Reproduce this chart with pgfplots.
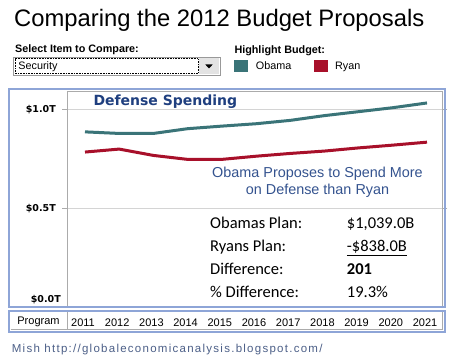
\documentclass[border=0pt]{standalone}
\usepackage{fontspec}
\setmainfont{Liberation Sans}
\newfontfamily\dvb{DejaVu Sans}
\newfontfamily\calib{Carlito}
\newfontfamily\footfont{Liberation Sans}[LetterSpace=11]
\usepackage{pgfplots}
\pgfplotsset{compat=1.18}
\definecolor{obama}{HTML}{3A7478}
\definecolor{ryan}{HTML}{A8102A}
\definecolor{frameblue}{HTML}{8EA5D7}
\definecolor{titleblue}{HTML}{1F3F7F}
\definecolor{noteblue}{HTML}{34538F}
\definecolor{footblue}{HTML}{4D6088}
\definecolor{gridgray}{HTML}{D4D4D4}
\definecolor{linegray}{HTML}{ABABAB}
\begin{document}
\begin{tikzpicture}[x=1pt,y=1pt]
\path[use as bounding box, fill=white] (0,0) rectangle (456,363);
% header
\node[anchor=base west, inner sep=0] at (14,336) {\fontsize{23.8}{28}\selectfont Comparing the 2012 Budget Proposals};
\node[anchor=base west, inner sep=0] at (15,310.5) {\fontsize{10.8}{13}\selectfont\bfseries Select Item to Compare:};
\node[anchor=base west, inner sep=0] at (234.3,309.7) {\fontsize{10.8}{13}\selectfont\bfseries Highlight Budget:};
% dropdown
\draw[draw=gray!80, line width=0.8pt] (13.3,288) rectangle (220.3,305.7);
\draw[densely dotted, black, line width=0.6pt] (14.8,289.5) rectangle (198,304.2);
\fill[gray!22] (199,289) rectangle (219,304.7);
\fill (205.3,298.5) -- (212.7,298.5) -- (209,294.5) -- cycle;
\node[anchor=base west, inner sep=0] at (18.3,293.7) {\fontsize{10.8}{13}\selectfont Security};
% legend
\fill[obama] (234,291.3) rectangle (248,303);
\node[anchor=base west, inner sep=0] at (255.7,293) {\fontsize{10.8}{13}\selectfont Obama};
\fill[ryan] (314.3,291.3) rectangle (327.7,303);
\node[anchor=base west, inner sep=0] at (335,293) {\fontsize{10.8}{13}\selectfont Ryan};
% axis
\begin{axis}[
  at={(67pt,55.7pt)}, anchor=south west, scale only axis,
  width=375.5pt, height=216.3pt,
  xmin=2010.474, xmax=2021.453, ymin=0, ymax=1.0924,
  axis line style={draw=none},
  tick align=outside, major tick length=5pt,
  ytick={0.5,1}, yticklabels={\$0.5T,\$1.0T},
  extra y ticks={0.037}, extra y tick labels={\$0.0T},
  extra y tick style={grid=none, major tick length=0pt},
  ytick style={linegray, line width=0.8pt},
  ymajorgrids, grid style={gridgray, line width=0.8pt},
  yticklabel style={font=\dvb\bfseries\fontsize{9.5}{11}\selectfont, inner sep=0pt, xshift=-6pt},
  xtick={2011,2012,2013,2014,2015,2016,2017,2018,2019,2020,2021},
  xticklabels={2011,2012,2013,2014,2015,2016,2017,2018,2019,2020,2021},
  xtick style={draw=none},
  xticklabel style={anchor=center, yshift=-10pt, xshift=-2pt, font=\fontsize{11}{13}\selectfont},
]
\addplot[obama, line width=3pt, line join=round] coordinates {
(2011,0.886) (2012,0.878) (2013,0.878) (2014,0.902) (2015,0.915) (2016,0.927)
(2017,0.944) (2018,0.968) (2019,0.988) (2020,1.008) (2021,1.032)};
\addplot[ryan, line width=3pt, line join=round] coordinates {
(2011,0.784) (2012,0.799) (2013,0.767) (2014,0.747) (2015,0.747) (2016,0.763)
(2017,0.777) (2018,0.789) (2019,0.805) (2020,0.819) (2021,0.834)};
\end{axis}
% frames
\draw[linegray, line width=1pt] (67,56.5) -- (67,271.5) -- (442.5,271.5) -- (442.5,56.5);
\draw[frameblue, line width=2pt] (9.3,55.7) rectangle (445.3,273.5);
\draw[linegray, line width=1pt] (10.5,33.6) -- (442.5,33.6) -- (442.5,51.3);
\draw[linegray, line width=1pt] (67,51.3) -- (67,33.6);
\draw[frameblue, line width=2pt] (9.3,31) rectangle (445.3,52.3);
\node[inner sep=0] at (38.5,41.3) {\fontsize{11}{13}\selectfont Program};
% texts in plot
\node[anchor=base west, inner sep=0, text=titleblue] at (93.3,257.3) {\dvb\bfseries\fontsize{14}{16}\selectfont Defense Spending};
\node[anchor=base, inner sep=0, text=noteblue] at (317.5,185.3) {\fontsize{14.4}{17}\selectfont Obama Proposes to Spend More};
\node[anchor=base, inner sep=0, text=noteblue] at (317.5,168.7) {\fontsize{14.4}{17}\selectfont on Defense than Ryan};
\begin{scope}[every node/.style={anchor=base west, inner sep=0, font=\calib\fontsize{16.5}{19}\selectfont}]
\node at (210,134.7) {Obamas Plan:};
\node at (210,111.3) {Ryans Plan:};
\node at (210,88.7) {Difference:};
\node at (210,65.7) {\% Difference:};
\node at (346.7,134.7) {\$1,039.0B};
\node at (346.7,111.3) {\underline{-\$838.0B}};
\node at (346.7,88.7) {\bfseries 201};
\node at (346.7,65.7) {19.3\%};
\end{scope}
% footer
\node[anchor=base west, inner sep=0, text=footblue] at (11.7,10.3) {\footfont\fontsize{11.5}{13}\selectfont Mish http://globaleconomicanalysis.blogspot.com/};
\end{tikzpicture}
\end{document}
